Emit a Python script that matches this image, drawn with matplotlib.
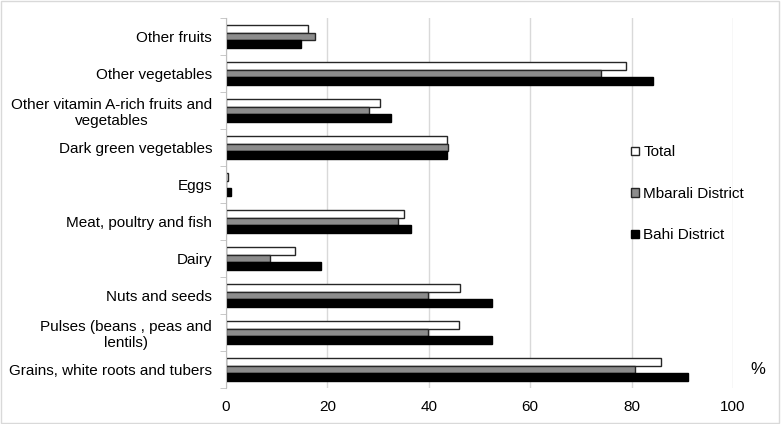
import matplotlib.pyplot as plt
import numpy as np
from matplotlib.patches import Rectangle

plt.rcParams['font.family'] = ['Liberation Sans', 'DejaVu Sans']

# Kategorier (ovenfra og ned) og verdier i prosent
categories = ["Other fruits", "Other vegetables",
              "Other vitamin A-rich fruits and\nvegetables",
              "Dark green vegetables", "Eggs", "Meat, poultry and fish",
              "Dairy", "Nuts and seeds", "Pulses (beans , peas and\nlentils)",
              "Grains, white roots and tubers"]
total = [16.1, 78.9, 30.4, 43.6, 0.4, 35.2, 13.6, 46.1, 46.0, 85.8]
mbarali = [17.5, 73.9, 28.2, 43.7, 0.0, 34.0, 8.6, 39.8, 39.8, 80.6]
bahi = [14.8, 84.2, 32.6, 43.5, 0.9, 36.5, 18.7, 52.4, 52.4, 91.1]
x_ticks = [0, 20, 40, 60, 80, 100]

fig = plt.figure(figsize=(7.81, 4.24), dpi=100)
ax = fig.add_axes([0.2894, 0.085, 0.6492, 0.8725])

y = np.arange(len(categories))[::-1]
h = 0.21
ax.barh(y + h, total, height=h, color="white", edgecolor="#262626", linewidth=1, label="Total", zorder=3)
ax.barh(y, mbarali, height=h, color="#8c8c8c", edgecolor="#262626", linewidth=1, label="Mbarali District", zorder=3)
ax.barh(y - h, bahi, height=h, color="black", edgecolor="black", linewidth=1, label="Bahi District", zorder=3)

ax.set_xlim(0, 100)
ax.set_ylim(-0.5, len(categories) - 0.5)
ax.set_xticks(x_ticks)
ax.set_yticks(y)
ax.set_yticklabels(categories, fontsize=11)
for lab in ax.get_yticklabels():
    lab.set_multialignment("center")
ax.set_yticks(np.arange(len(categories) + 1) - 0.5, minor=True)
ax.tick_params(axis="y", which="major", length=0, pad=10)
ax.tick_params(axis="y", which="minor", length=4, color="#bfbfbf")
ax.tick_params(axis="x", length=0, pad=9, labelsize=11)

# Rutenett og akser
ax.grid(True, axis="x", color="#d9d9d9", linewidth=1, zorder=0)
for s in ["top", "right", "bottom"]:
    ax.spines[s].set_visible(False)
ax.spines["left"].set_color("#bfbfbf")
ax.spines["left"].set_zorder(4)

leg = ax.legend(loc="upper left", bbox_to_anchor=(0.787, 0.672), frameon=False, fontsize=11,
                handlelength=0.5, handleheight=0.5, handletextpad=0.3, labelspacing=1.8,
                borderaxespad=0)

fig.text(758 / 781, 1 - 370 / 424, "%", fontsize=12, ha="center", va="center")
fig.patches.append(Rectangle((0.001, 0.002), 0.997, 0.995, transform=fig.transFigure,
                             fill=False, edgecolor="#d9d9d9", linewidth=1))

fig.savefig("out.png", dpi=100)
